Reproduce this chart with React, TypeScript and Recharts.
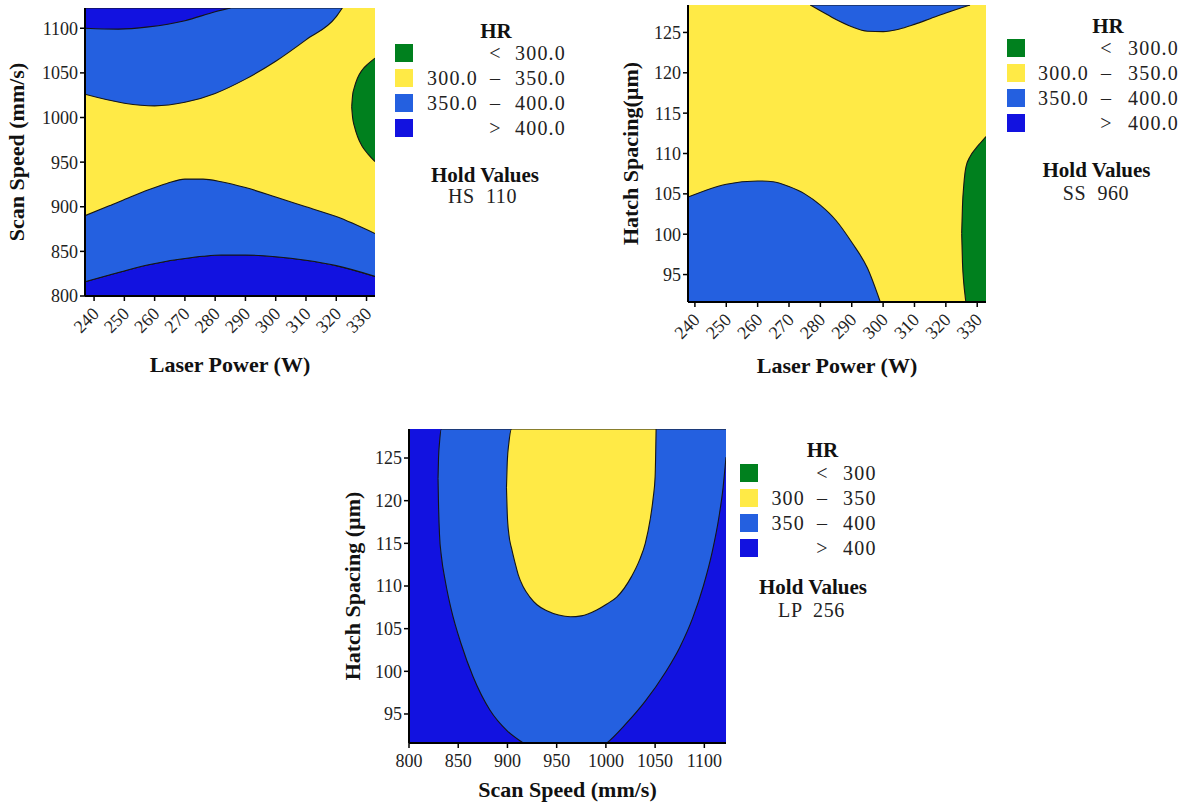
import { ComposedChart, Area, XAxis, YAxis, Label } from 'recharts'

type Row = [number, number, number] // x, lower edge, upper edge of a contour band

// axis ranges as framed in the picture
const LP_RANGE_A: [number, number] = [237, 332.8]
const LP_RANGE_B: [number, number] = [237.8, 332.8]
const SS_RANGE_Y: [number, number] = [800, 1122.7]
const SS_RANGE_X: [number, number] = [800, 1122]
const HS_RANGE: [number, number] = [91.6, 128.4]

const LP_TICKS = [240, 250, 260, 270, 280, 290, 300, 310, 320, 330]
const SS_TICKS = [800, 850, 900, 950, 1000, 1050, 1100]
const HS_TICKS = [95, 100, 105, 110, 115, 120, 125]

// plot 1: scan speed vs laser power (HS held at 110)
const P1_YELLOW: Row[] = [[237, 800, 1122.7], [332.8, 800, 1122.7]]
const P1_NAVY_LOW: Row[] = [
  [237, 800, 816], [245, 800, 823.5], [252, 800, 830], [258, 800, 835], [264, 800, 839],
  [270, 800, 842], [276, 800, 844.5], [282, 800, 846], [290, 800, 846], [300, 800, 844],
  [310, 800, 840], [320, 800, 834], [332.8, 800, 822],
]
const P1_BLUE_LOW: Row[] = [
  [237, 816, 890], [245, 823.5, 901], [252, 830, 911], [258, 835, 919], [264, 839, 926],
  [270, 842, 931], [276, 844.5, 931], [282, 846, 928], [290, 846, 921.5], [300, 844, 911],
  [310, 840, 900], [320, 834, 889], [332.8, 822, 870],
]
const P1_BLUE_HIGH: Row[] = [
  [237, 1026, 1122.7], [250, 1016, 1122.7], [260, 1013, 1122.7], [270, 1017, 1122.7],
  [280, 1027, 1122.7], [290, 1043, 1122.7], [300, 1063, 1122.7], [310, 1087, 1122.7],
  [320, 1113, 1122.7], [322, 1122.7, 1122.7],
]
const P1_NAVY_HIGH: Row[] = [
  [237, 1100, 1122.7], [248, 1099, 1122.7], [258, 1101.5, 1122.7], [270, 1108.5, 1122.7],
  [280, 1118.5, 1122.7], [285, 1122.7, 1122.7],
]
const P1_GREEN: Row[] = [
  [325.1, 1012, 1012], [325.4, 1000, 1025], [326, 990, 1034], [327, 979, 1044],
  [328.5, 968, 1053], [330.5, 959, 1060], [332.8, 950.6, 1066.5],
]

// plot 2: hatch spacing vs laser power (SS held at 960)
const P2_YELLOW: Row[] = [[237.8, 91.6, 128.4], [332.8, 91.6, 128.4]]
const P2_BLUE_LOW: Row[] = [
  [237.8, 91.6, 104.6], [250, 91.6, 106.2], [260, 91.6, 106.6], [265, 91.6, 106.5],
  [270, 91.6, 105.9], [275, 91.6, 105], [280, 91.6, 103.6], [285, 91.6, 101.7],
  [290, 91.6, 99], [295, 91.6, 95.8], [299.1, 91.6, 91.6],
]
const P2_BLUE_HIGH: Row[] = [
  [276.8, 128.4, 128.4], [280, 127.7, 128.4], [285, 126.6, 128.4], [290, 125.7, 128.4],
  [295, 125.15, 128.4], [300, 125.1, 128.4], [305, 125.4, 128.4], [310, 126, 128.4],
  [315, 126.7, 128.4], [320, 127.4, 128.4], [327.7, 128.4, 128.4],
]
const P2_GREEN: Row[] = [
  [325.05, 100.1, 100.1], [325.3, 96.5, 103.5], [325.7, 94, 106], [326.1, 92.5, 107.6],
  [326.4, 91.6, 108.3], [327.7, 91.6, 109.6], [329.5, 91.6, 110.6], [331, 91.6, 111.3],
  [332.8, 91.6, 112.1],
]

// plot 3: hatch spacing vs scan speed (LP held at 256)
// the outer band's lower edge dips just under the frame between 916 and 1001
const P3_NAVY: Row[] = [[800, 91.6, 128.4], [1122, 91.6, 128.4]]
const P3_BLUE: Row[] = [
  [829.5, 122.6, 122.6], [830, 119.5, 125], [831, 116, 126.8], [832.9, 113.5, 128.4],
  [837, 110.5, 128.4], [843, 107.2, 128.4], [853, 103.2, 128.4], [865, 99.4, 128.4],
  [882, 95.5, 128.4], [900, 93, 128.4], [916, 91.6, 128.4], [930, 90.55, 128.4],
  [958, 89.7, 128.4], [985, 90.45, 128.4], [1001, 91.6, 128.4],
  [1020, 93.8, 128.4], [1040, 96.5, 128.4], [1060, 99.8, 128.4], [1075, 102.8, 128.4],
  [1088, 106.2, 128.4], [1099, 110, 128.4], [1108, 114, 128.4], [1115, 118.2, 128.4],
  [1119, 121.5, 128.4], [1122, 125.1, 128.4],
]
const P3_YELLOW: Row[] = [
  [899, 121.5, 121.5], [899.8, 118.5, 124.5], [901.5, 116, 126.8], [904.2, 114.4, 128.4],
  [908, 112.6, 128.4], [911, 111.3, 128.4], [916, 109.9, 128.4], [922.8, 108.7, 128.4],
  [930, 107.8, 128.4], [940, 107.1, 128.4], [952, 106.6, 128.4], [964, 106.4, 128.4],
  [975, 106.5, 128.4], [990.7, 107.2, 128.4], [1001, 107.9, 128.4], [1011, 108.7, 128.4],
  [1026, 111.1, 128.4], [1034, 113, 128.4], [1040, 115, 128.4], [1045, 117.8, 128.4],
  [1048, 120.3, 128.4], [1050, 122.8, 128.4], [1051, 128.4, 128.4],
]

// legend text
const BIN_FROM_DEC = ['', '300.0', '350.0', '']
const BIN_TO_DEC = ['300.0', '350.0', '400.0', '400.0']
const BIN_FROM_INT = ['', '300', '350', '']
const BIN_TO_INT = ['300', '350', '400', '400']
const BIN_SIGN = ['<', '–', '–', '>']
const HOLD_VALUES = ['HS  110', 'SS  960', 'LP  256']

const GREEN = '#00801e'
const YELLOW = '#ffea46'
const BLUE = '#2460e0'
const NAVY = '#1212e0'
const BIN_COLORS = [GREEN, YELLOW, BLUE, NAVY]

const SERIF = '"Liberation Serif", "Times New Roman", serif'
const tickStyle = { fontFamily: SERIF, fontSize: 18, fill: '#222' }
const titleStyle = { fontFamily: SERIF, fontSize: 22, fontWeight: 'bold' as const, fill: '#111' }
const frame = { stroke: '#000', strokeWidth: 2 }

const toData = (rows: Row[]) => rows.map(([x, lo, hi]) => ({ x, r: [lo, hi] }))

function RotTick(props: any) {
  const { x, y, payload } = props
  const px = x + 6
  const py = y + 14
  return (
    <text x={px} y={py} transform={`rotate(-45, ${px}, ${py})`} textAnchor="end" style={tickStyle}>
      {payload.value}
    </text>
  )
}

interface Layer {
  rows: Row[]
  fill: string
  line?: boolean
}

interface ContourProps {
  width: number
  height: number
  margin: { top: number; right: number; bottom: number; left: number }
  xDomain: [number, number]
  yDomain: [number, number]
  xTicks: number[]
  yTicks: number[]
  xTitle: string
  yTitle: string
  yAxisWidth: number
  xAxisHeight: number
  rotate?: boolean
  xTitleOffset: number
  yTitleOffset: number
  layers: Layer[]
}

function Contour(p: ContourProps) {
  return (
    <ComposedChart width={p.width} height={p.height} margin={p.margin}>
      {p.layers.map((l, i) => (
        <Area
          key={i}
          data={toData(l.rows)}
          dataKey="r"
          type="monotone"
          fill={l.fill}
          fillOpacity={1}
          stroke={l.line ? '#151515' : 'none'}
          strokeWidth={1.1}
          dot={false}
          activeDot={false}
          isAnimationActive={false}
        />
      ))}
      <XAxis
        dataKey="x"
        type="number"
        domain={p.xDomain}
        allowDataOverflow
        ticks={p.xTicks}
        interval={0}
        height={p.xAxisHeight}
        tickSize={5}
        tickMargin={p.rotate ? 0 : 6}
        tick={p.rotate ? (t: any) => <RotTick {...t} /> : tickStyle}
        tickLine={{ stroke: '#000', strokeWidth: 1.5 }}
        axisLine={frame}
      >
        <Label value={p.xTitle} position="insideBottom" offset={p.xTitleOffset} style={titleStyle} />
      </XAxis>
      <XAxis
        xAxisId="top"
        orientation="top"
        dataKey="x"
        type="number"
        domain={p.xDomain}
        allowDataOverflow
        height={0}
        tick={false}
        tickLine={false}
        axisLine={frame}
      />
      <YAxis
        type="number"
        domain={p.yDomain}
        allowDataOverflow
        ticks={p.yTicks}
        interval={0}
        width={p.yAxisWidth}
        tickSize={5}
        tickMargin={2}
        tick={tickStyle}
        tickLine={{ stroke: '#000', strokeWidth: 1.5 }}
        axisLine={frame}
      >
        <Label
          value={p.yTitle}
          angle={-90}
          position="insideLeft"
          offset={p.yTitleOffset}
          style={{ ...titleStyle, textAnchor: 'middle' }}
        />
      </YAxis>
      <YAxis
        yAxisId="right"
        orientation="right"
        type="number"
        domain={p.yDomain}
        allowDataOverflow
        width={0}
        tick={false}
        tickLine={false}
        axisLine={frame}
      />
    </ComposedChart>
  )
}

interface LegendProps {
  left: number
  top: number
  from: string[]
  to: string[]
  c1: number
  c2: number
  c3: number
  titleX: number
  titleY: number
  holdX: number
  holdY: number
  valX: number
  valY: number
  hold: string
}

function HrLegend(l: LegendProps) {
  // line boxes kept short (14px) so neighbouring rows do not overlap
  const txt = { position: 'absolute' as const, fontFamily: SERIF, fontSize: 20, lineHeight: '14px', color: '#222', letterSpacing: 1.2, whiteSpace: 'pre' as const }
  const bold = { ...txt, fontSize: 21, fontWeight: 'bold' as const, color: '#111', letterSpacing: 0 }
  return (
    <div style={{ position: 'absolute', left: l.left, top: l.top }}>
      <div style={{ ...bold, left: l.titleX - 60, width: 120, textAlign: 'center', top: l.titleY - 7 }}>HR</div>
      {BIN_COLORS.map((c, i) => (
        <div key={i}>
          <div style={{ position: 'absolute', left: 0, top: i * 25 - 9, width: 18, height: 18, background: c }} />
          <div style={{ ...txt, left: l.c1 - 80, width: 80, textAlign: 'right', top: i * 25 - 7 }}>{l.from[i]}</div>
          <div style={{ ...txt, left: l.c2 - 12, width: 24, textAlign: 'center', top: i * 25 - 7, letterSpacing: 0 }}>{BIN_SIGN[i]}</div>
          <div style={{ ...txt, left: l.c3, top: i * 25 - 7 }}>{l.to[i]}</div>
        </div>
      ))}
      <div style={{ ...bold, left: l.holdX - 80, width: 160, textAlign: 'center', top: l.holdY - 7 }}>Hold Values</div>
      <div style={{ ...txt, left: l.valX - 80, width: 160, textAlign: 'center', top: l.valY - 7, letterSpacing: 0.6 }}>{l.hold}</div>
    </div>
  )
}

export default function App() {
  return (
    <div style={{ position: 'absolute', left: 0, top: 0, width: 1186, height: 803, background: '#fff', overflow: 'hidden' }}>
      <div style={{ position: 'absolute', left: 0, top: 0 }}>
        <Contour
          width={380}
          height={380}
          margin={{ top: 8, right: 5, bottom: 0, left: 0 }}
          xDomain={LP_RANGE_A}
          yDomain={SS_RANGE_Y}
          xTicks={LP_TICKS}
          yTicks={SS_TICKS}
          xTitle="Laser Power (W)"
          yTitle="Scan Speed (mm/s)"
          yAxisWidth={85}
          xAxisHeight={84}
          rotate
          xTitleOffset={8}
          yTitleOffset={16.5}
          layers={[
            { rows: P1_YELLOW, fill: YELLOW },
            { rows: P1_NAVY_LOW, fill: NAVY, line: true },
            { rows: P1_BLUE_LOW, fill: BLUE, line: true },
            { rows: P1_BLUE_HIGH, fill: BLUE, line: true },
            { rows: P1_NAVY_HIGH, fill: NAVY, line: true },
            { rows: P1_GREEN, fill: GREEN, line: true },
          ]}
        />
      </div>
      <HrLegend left={395} top={52.5} from={BIN_FROM_DEC} to={BIN_TO_DEC} c1={83} c2={100} c3={120}
        titleX={101} titleY={-22} holdX={90} holdY={122} valX={87.5} valY={143} hold={HOLD_VALUES[0]} />

      <div style={{ position: 'absolute', left: 600, top: 0 }}>
        <Contour
          width={390}
          height={380}
          margin={{ top: 5, right: 4, bottom: 0, left: 0 }}
          xDomain={LP_RANGE_B}
          yDomain={HS_RANGE}
          xTicks={LP_TICKS}
          yTicks={HS_TICKS}
          xTitle="Laser Power (W)"
          yTitle="Hatch Spacing(µm)"
          yAxisWidth={88}
          xAxisHeight={78}
          rotate
          xTitleOffset={7}
          yTitleOffset={30}
          layers={[
            { rows: P2_YELLOW, fill: YELLOW },
            { rows: P2_BLUE_LOW, fill: BLUE, line: true },
            { rows: P2_BLUE_HIGH, fill: BLUE, line: true },
            { rows: P2_GREEN, fill: GREEN, line: true },
          ]}
        />
      </div>
      <HrLegend left={1007} top={48} from={BIN_FROM_DEC} to={BIN_TO_DEC} c1={82} c2={99} c3={121}
        titleX={101} titleY={-22} holdX={89.5} holdY={121.5} valX={89} valY={145} hold={HOLD_VALUES[1]} />

      <div style={{ position: 'absolute', left: 320, top: 410 }}>
        <Contour
          width={410}
          height={393}
          margin={{ top: 19, right: 4, bottom: 0, left: 0 }}
          xDomain={SS_RANGE_X}
          yDomain={HS_RANGE}
          xTicks={SS_TICKS}
          yTicks={HS_TICKS}
          xTitle="Scan Speed (mm/s)"
          yTitle="Hatch Spacing (µm)"
          yAxisWidth={89}
          xAxisHeight={60}
          xTitleOffset={6}
          yTitleOffset={32.5}
          layers={[
            { rows: P3_NAVY, fill: NAVY },
            { rows: P3_BLUE, fill: BLUE, line: true },
            { rows: P3_YELLOW, fill: YELLOW, line: true },
          ]}
        />
      </div>
      <HrLegend left={740} top={472.5} from={BIN_FROM_INT} to={BIN_TO_INT} c1={65} c2={82} c3={103}
        titleX={82.5} titleY={-22.5} holdX={73} holdY={114} valX={71.5} valY={137} hold={HOLD_VALUES[2]} />
    </div>
  )
}
